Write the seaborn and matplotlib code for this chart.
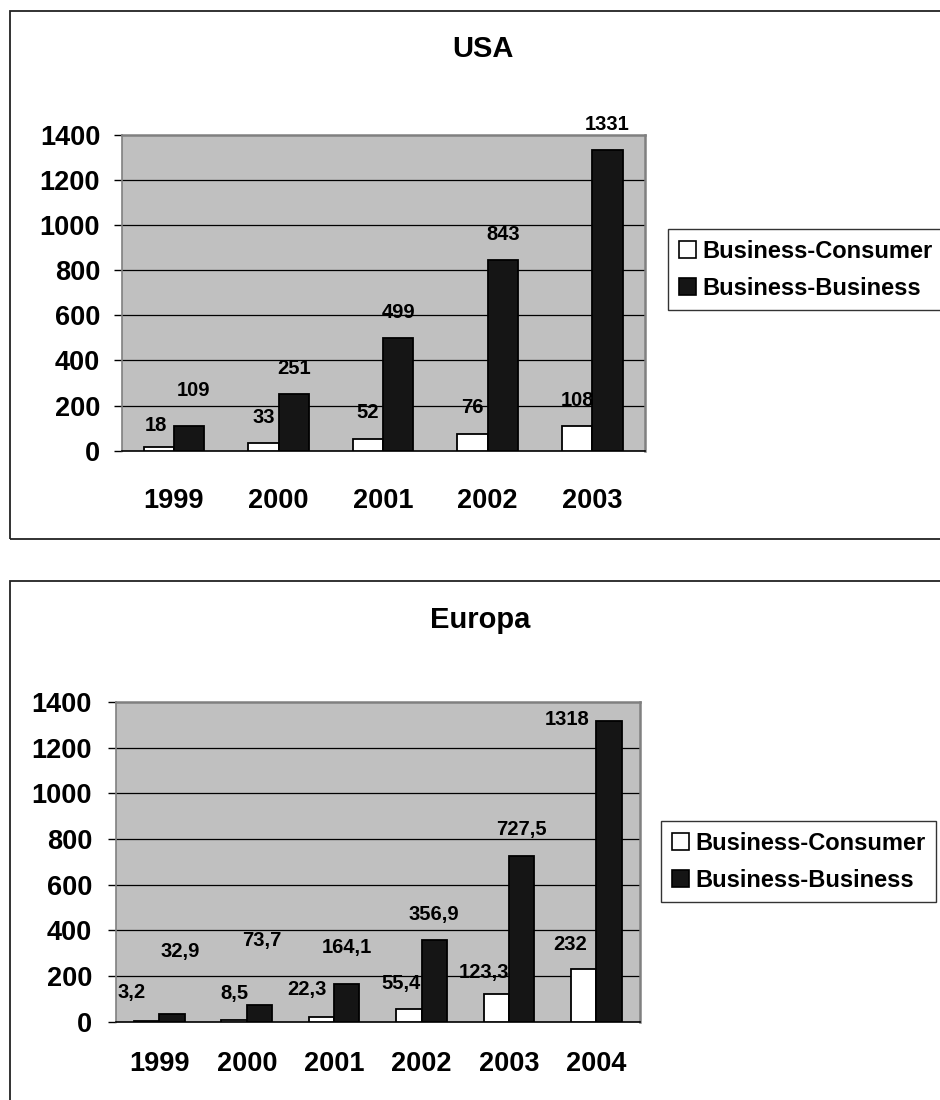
import numpy as np
import pandas as pd
import matplotlib
matplotlib.use("Agg")
import matplotlib.pyplot as plt
from matplotlib.patches import Rectangle
import seaborn as sns

# ---------------- data ----------------
series_names = ["Business-Consumer", "Business-Business"]

usa_years = ["1999", "2000", "2001", "2002", "2003"]
usa_b2c = [18, 33, 52, 76, 108]
usa_b2b = [109, 251, 499, 843, 1331]

eu_years = ["1999", "2000", "2001", "2002", "2003", "2004"]
eu_b2c = [3.2, 8.5, 22.3, 55.4, 123.3, 232]
eu_b2b = [32.9, 73.7, 164.1, 356.9, 727.5, 1318]

y_ticks = [0, 200, 400, 600, 800, 1000, 1200, 1400]

# ---------------- style ----------------
sns.set_style("white")
plt.rcParams["font.family"] = ["Liberation Sans", "DejaVu Sans"]
plt.rcParams["font.weight"] = "bold"
plt.rcParams["text.color"] = "black"
plt.rcParams["xtick.color"] = "black"
plt.rcParams["ytick.color"] = "black"
plt.rcParams["axes.labelcolor"] = "black"

W, H = 940, 1100
fig = plt.figure(figsize=(W / 100, H / 100), dpi=100)
fig.patch.set_facecolor("white")

palette = {series_names[0]: "white", series_names[1]: "#151515"}

# label nudges in pixels (dx, dy above bar top); default (0, 26)
usa_nudge = {(0, 0): (-3, 21), (1, 0): (4, 36)}
eu_nudge = {(0, 0): (-15, 29), (1, 0): (8, 63), (1, 1): (2, 64), (1, 2): (0, 37),
            (0, 2): (-15, 27), (0, 3): (-8, 26), (0, 4): (-12, 21),
            (0, 5): (-14, 24), (1, 5): (-42, 1)}


def fmt(v):
    return f"{v:g}".replace(".", ",")


def px_rect(x0, y0, x1, y1):
    return [x0 / W, 1 - y1 / H, (x1 - x0) / W, (y1 - y0) / H]


def make_panel(rect_px, years, b2c, b2b, title, title_xy, nudge, xpad, ypad,
               legend_xy, box_px):
    # panel border
    bx0, by0, bx1, by1 = box_px
    fig.patches.append(Rectangle((bx0 / W, 1 - by1 / H), (bx1 - bx0) / W, (by1 - by0) / H,
                                 transform=fig.transFigure, fill=False,
                                 edgecolor="#222222", linewidth=1.3, zorder=0))
    ax = fig.add_axes(px_rect(*rect_px))
    df = pd.DataFrame({
        "year": years * 2,
        "series": [series_names[0]] * len(years) + [series_names[1]] * len(years),
        "value": list(b2c) + list(b2b),
    })
    sns.barplot(data=df, x="year", y="value", hue="series", order=years,
                hue_order=series_names, palette=palette, width=0.58,
                edgecolor="black", linewidth=1.3, saturation=1, ax=ax, zorder=3)
    ax.set_facecolor("#C0C0C0")
    ax.set_ylim(0, 1400)
    ax.set_xlim(-0.5, len(years) - 0.5)
    ax.set_yticks(y_ticks)
    ax.set_yticklabels([str(t) for t in y_ticks], fontsize=19.5, fontweight="bold",
                       color="black")
    ax.set_xticks(range(len(years)))
    ax.set_xticklabels(years, fontsize=19.5, fontweight="bold", color="black")
    ax.set_xticks(np.arange(len(years) + 1) - 0.5, minor=True)
    ax.tick_params(axis="x", which="major", length=0, pad=xpad)
    ax.tick_params(axis="x", which="minor", length=6.5, width=1, color="black",
                   direction="out")
    ax.tick_params(axis="y", length=6, width=1, color="black", direction="out",
                   pad=ypad, left=True)
    ax.set_xlabel("")
    ax.set_ylabel("")
    ax.grid(False)
    for t in y_ticks[1:-1]:
        ax.axhline(t, color="black", linewidth=0.9, zorder=1)
    for s in ["top", "right", "left"]:
        ax.spines[s].set_visible(True)
        ax.spines[s].set_color("#808080")
        ax.spines[s].set_linewidth(1.8)
    ax.spines["left"].set_linewidth(1.2)
    ax.spines["bottom"].set_color("black")
    ax.spines["bottom"].set_linewidth(1.2)

    # data labels
    for si, cont in enumerate(ax.containers):
        vals = b2c if si == 0 else b2b
        for i, bar in enumerate(cont):
            cx = bar.get_x() + bar.get_width() / 2
            h = bar.get_height()
            dx, dy = nudge.get((si, i), (0, 26))
            ax.annotate(fmt(vals[i]), xy=(cx, h), xytext=(dx * 0.72, dy * 0.72),
                        textcoords="offset points", ha="center", va="center",
                        fontsize=14.5, fontweight="bold", color="black",
                        annotation_clip=False, zorder=5)

    # legend
    handles, labels = ax.get_legend_handles_labels()
    if ax.legend_ is not None:
        ax.legend_.remove()
    leg = fig.legend(handles, labels, loc="upper left",
                     bbox_to_anchor=(legend_xy[0] / W, 1 - legend_xy[1] / H),
                     bbox_transform=fig.transFigure,
                     prop={"size": 17, "weight": "bold"}, frameon=True,
                     fancybox=False, edgecolor="black", borderpad=0.45,
                     handlelength=0.75, handleheight=0.75, handletextpad=0.25,
                     labelspacing=0.6, borderaxespad=0)
    leg.get_frame().set_linewidth(1.0)
    for txt in leg.get_texts():
        txt.set_color("black")
    for hnd in leg.legend_handles:
        hnd.set_edgecolor("black")
        hnd.set_linewidth(1.2)

    fig.text(title_xy[0] / W, 1 - title_xy[1] / H, title, ha="center", va="center",
             fontsize=21, fontweight="bold", color="black")
    return ax


make_panel((121.7, 134.6, 644.5, 450.7), usa_years, usa_b2c, usa_b2b, "USA",
           (482.6, 49), usa_nudge, xpad=27, ypad=9.5, legend_xy=(668, 229),
           box_px=(9.6, 10.7, 1000, 539))
make_panel((115.7, 701.9, 640, 1021.8), eu_years, eu_b2c, eu_b2b, "Europa",
           (480, 620), eu_nudge, xpad=21, ypad=11, legend_xy=(661, 821),
           box_px=(9.6, 580.7, 1000, 1150))

fig.savefig("out.png", dpi=100)
